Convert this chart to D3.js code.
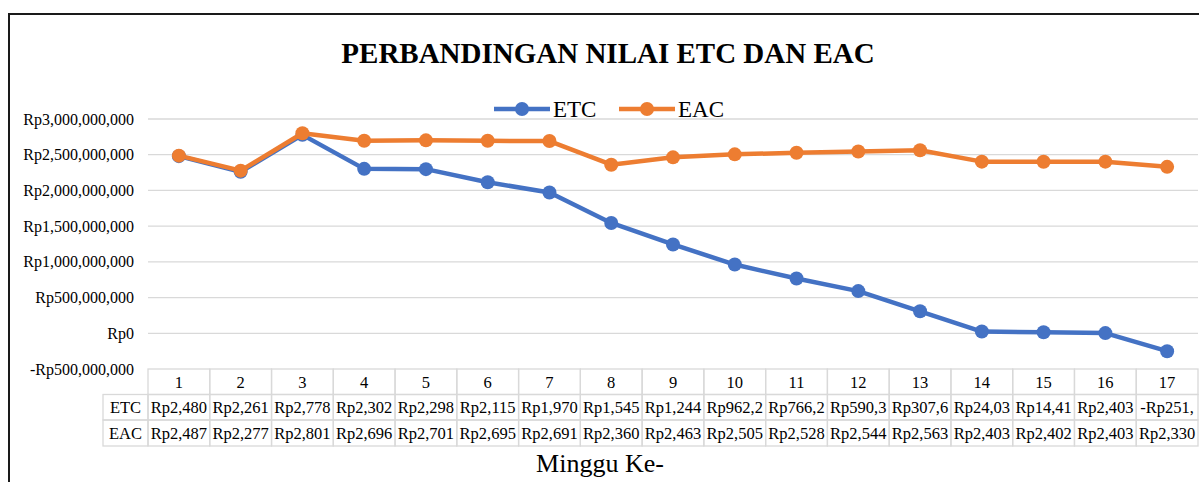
<!DOCTYPE html>
<html><head><meta charset="utf-8">
<script src="https://cdn.jsdelivr.net/npm/d3@7"></script>
<style>body{margin:0;background:#fff}svg{display:block}text{font-family:"Liberation Serif","Times New Roman",serif}</style>
</head><body><div id="chart"></div>
<script>
const weeks = ["1","2","3","4","5","6","7","8","9","10","11","12","13","14","15","16","17"];
const etcValues = [2480e6,2261e6,2778e6,2302e6,2298e6,2115e6,1970e6,1545e6,1244e6,962.2e6,766.2e6,590.3e6,307.6e6,24.03e6,14.41e6,2.403e6,-251e6];
const eacValues = [2487e6,2277e6,2801e6,2696e6,2701e6,2695e6,2691e6,2360e6,2463e6,2505e6,2528e6,2544e6,2563e6,2403e6,2402e6,2403e6,2330e6];
const etcLabels = ["Rp2,480","Rp2,261","Rp2,778","Rp2,302","Rp2,298","Rp2,115","Rp1,970","Rp1,545","Rp1,244","Rp962,2","Rp766,2","Rp590,3","Rp307,6","Rp24,03","Rp14,41","Rp2,403","-Rp251,"];
const eacLabels = ["Rp2,487","Rp2,277","Rp2,801","Rp2,696","Rp2,701","Rp2,695","Rp2,691","Rp2,360","Rp2,463","Rp2,505","Rp2,528","Rp2,544","Rp2,563","Rp2,403","Rp2,402","Rp2,403","Rp2,330"];
const yTicks = [-500e6,0,500e6,1000e6,1500e6,2000e6,2500e6,3000e6];
const seriesNames = ["ETC","EAC"];
const colors = ["#4472C4","#ED7D31"];

const W=1199,H=482;
const svg=d3.select("#chart").append("svg").attr("width",W).attr("height",H);

// outer border
svg.append("path").attr("d","M9,482 L9,14 L1199,14").attr("fill","none").attr("stroke","#1a1a1a").attr("stroke-width",2);

svg.append("text").attr("x",608).attr("y",63).attr("text-anchor","middle")
  .attr("font-weight","bold").attr("font-size",29).text("PERBANDINGAN NILAI ETC DAN EAC");

const x=d3.scaleBand().domain(weeks).range([148,1198]);
const y=d3.scaleLinear().domain([-500e6,3000e6]).range([369,119]);

// gridlines
svg.append("g").selectAll("line").data(yTicks.filter(d=>d>-500e6)).join("line")
  .attr("x1",148).attr("x2",1198).attr("y1",d=>y(d)).attr("y2",d=>y(d))
  .attr("stroke","#d9d9d9").attr("stroke-width",1.3);

// y labels
const fmt=d=>(d<0?"-":"")+"Rp"+d3.format(",")(Math.abs(d));
svg.append("g").selectAll("text").data(yTicks).join("text")
  .attr("x",134).attr("y",d=>y(d)).attr("dy","0.35em").attr("text-anchor","end")
  .attr("font-size",16).text(fmt);

// lines
const series=[etcValues,eacValues];
const line=d3.line().x((d,i)=>x(weeks[i])+x.bandwidth()/2).y(d=>y(d));
series.forEach((vals,k)=>{
  const g=svg.append("g");
  g.append("path").attr("d",line(vals)).attr("fill","none").attr("stroke",colors[k]).attr("stroke-width",4.5).attr("stroke-linejoin","round");
  g.selectAll("circle").data(vals).join("circle")
    .attr("cx",(d,i)=>x(weeks[i])+x.bandwidth()/2).attr("cy",d=>y(d)).attr("r",7).attr("fill",colors[k]);
});

// legend
const legX=[494,619];
seriesNames.forEach((n,k)=>{
  const g=svg.append("g");
  g.append("line").attr("x1",legX[k]).attr("x2",legX[k]+56).attr("y1",109).attr("y2",109).attr("stroke",colors[k]).attr("stroke-width",4.5);
  g.append("circle").attr("cx",legX[k]+28).attr("cy",109).attr("r",7).attr("fill",colors[k]);
  g.append("text").attr("x",legX[k]+59).attr("y",109).attr("dy","0.35em").attr("font-size",23).text(n);
});

// data table
const tc="#d9d9d9";
const rowTop=[369,394.5,420],rowH=[25.5,25.5,26];
const fs=16.5;
const tg=svg.append("g");
weeks.forEach((w,i)=>{
  tg.append("rect").attr("x",x(w)).attr("y",rowTop[0]).attr("width",x.bandwidth()).attr("height",rowH[0]).attr("fill","none").attr("stroke",tc).attr("stroke-width",1.3);
  tg.append("text").attr("x",x(w)+x.bandwidth()/2).attr("y",rowTop[0]+rowH[0]/2).attr("dy","0.35em").attr("text-anchor","middle").attr("font-size",fs).text(w);
});
[etcLabels,eacLabels].forEach((labs,k)=>{
  const r=k+1;
  tg.append("rect").attr("x",103).attr("y",rowTop[r]).attr("width",45).attr("height",rowH[r]).attr("fill","none").attr("stroke",tc).attr("stroke-width",1.3);
  tg.append("text").attr("x",125.5).attr("y",rowTop[r]+rowH[r]/2).attr("dy","0.35em").attr("text-anchor","middle").attr("font-size",fs).text(seriesNames[k]);
  weeks.forEach((w,i)=>{
    tg.append("rect").attr("x",x(w)).attr("y",rowTop[r]).attr("width",x.bandwidth()).attr("height",rowH[r]).attr("fill","none").attr("stroke",tc).attr("stroke-width",1.3);
    tg.append("text").attr("x",x(w)+x.bandwidth()/2).attr("y",rowTop[r]+rowH[r]/2).attr("dy","0.35em").attr("text-anchor","middle").attr("font-size",fs).text(labs[i]);
  });
});

svg.append("text").attr("x",600).attr("y",472).attr("text-anchor","middle").attr("font-size",26).text("Minggu Ke-");
</script></body></html>
